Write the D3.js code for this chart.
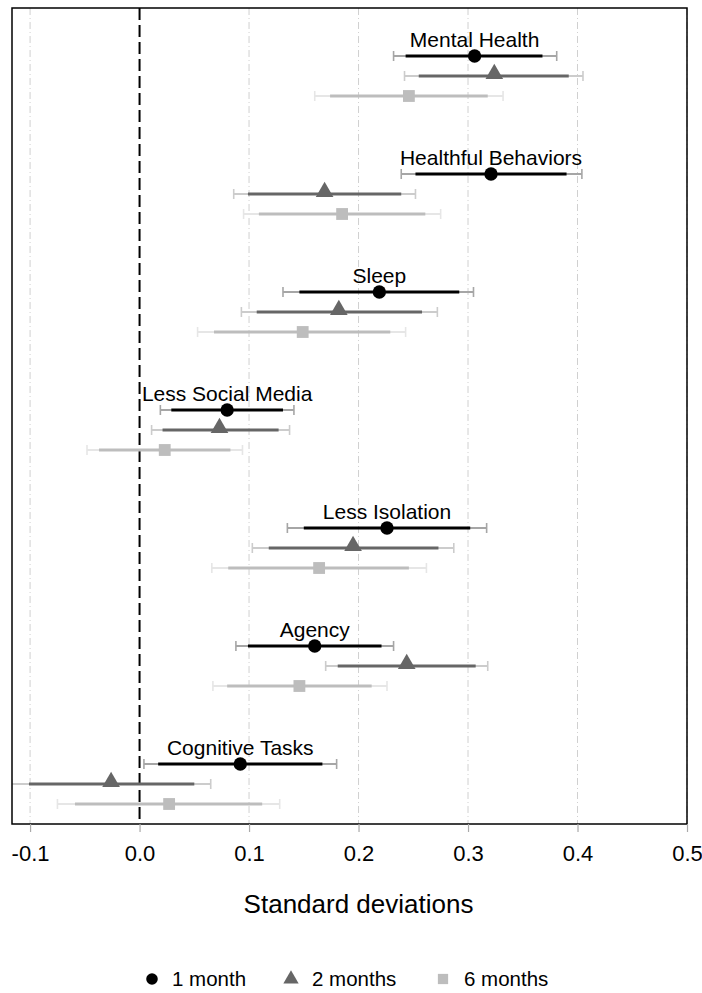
<!DOCTYPE html>
<html>
<head>
<meta charset="utf-8">
<script src="https://cdn.jsdelivr.net/npm/d3@7"></script>
<style>
  body { margin: 0; background: #fff; }
  text { font-family: "Liberation Sans", Arial, sans-serif; fill: #000; }
</style>
</head>
<body>
<svg width="702" height="993"></svg>
<script>
/* chart values */
var categories = ["Mental Health", "Healthful Behaviors", "Sleep", "Less Social Media", "Less Isolation", "Agency", "Cognitive Tasks"];
var seriesNames = ["1 month", "2 months", "6 months"];
var tickValues = [-0.1, 0.0, 0.1, 0.2, 0.3, 0.4, 0.5];

// 1 month
var est1 = [0.306, 0.321, 0.219, 0.080, 0.226, 0.160, 0.092];
var innerLo1 = [0.243, 0.252, 0.146, 0.029, 0.150, 0.099, 0.017];
var innerHi1 = [0.368, 0.390, 0.292, 0.131, 0.302, 0.221, 0.167];
var outerLo1 = [0.232, 0.239, 0.131, 0.019, 0.135, 0.088, 0.004];
var outerHi1 = [0.381, 0.404, 0.305, 0.141, 0.317, 0.232, 0.180];
// 2 months
var est2 = [0.324, 0.169, 0.182, 0.073, 0.195, 0.244, -0.026];
var innerLo2 = [0.255, 0.099, 0.107, 0.021, 0.118, 0.181, -0.101];
var innerHi2 = [0.392, 0.239, 0.258, 0.127, 0.273, 0.307, 0.050];
var outerLo2 = [0.242, 0.086, 0.093, 0.011, 0.103, 0.170, -0.117];
var outerHi2 = [0.405, 0.252, 0.272, 0.137, 0.287, 0.318, 0.065];
// 6 months
var est6 = [0.246, 0.185, 0.149, 0.023, 0.164, 0.146, 0.027];
var innerLo6 = [0.174, 0.109, 0.068, -0.037, 0.081, 0.080, -0.059];
var innerHi6 = [0.318, 0.261, 0.229, 0.083, 0.246, 0.212, 0.112];
var outerLo6 = [0.160, 0.095, 0.053, -0.048, 0.066, 0.067, -0.075];
var outerHi6 = [0.332, 0.275, 0.243, 0.094, 0.262, 0.226, 0.128];

var seriesData = [
    {est: est1, ilo: innerLo1, ihi: innerHi1, olo: outerLo1, ohi: outerHi1},
    {est: est2, ilo: innerLo2, ihi: innerHi2, olo: outerLo2, ohi: outerHi2},
    {est: est6, ilo: innerLo6, ihi: innerHi6, olo: outerLo6, ohi: outerHi6}
];

var markColor = ["#000000", "#666666", "#bdbdbd"];
var outerColor = ["#a6a6a6", "#cccccc", "#e6e6e6"];
var symbols = [d3.symbolCircle, d3.symbolTriangle, d3.symbolSquare];
var symbolSizes = [140, 135, 140];

var rows = [];
seriesData.forEach(function (s, k) {
    categories.forEach(function (c, i) {
        rows.push({cat: c, ci: i, k: k, est: s.est[i], ilo: s.ilo[i], ihi: s.ihi[i], olo: s.olo[i], ohi: s.ohi[i]});
    });
});

var svg = d3.select("svg"),
    margin = {top: 8, left: 12, right: 15, bottom: 169},
    width = +svg.attr("width") - margin.left - margin.right,
    height = +svg.attr("height") - margin.top - margin.bottom;

var x = d3.scaleLinear().domain([-0.1165, 0.5]).range([0, width]);
var yGroup = d3.scalePoint().domain(categories).range([48, 756]);
var yOff = d3.scalePoint().domain([0, 1, 2]).range([0, 40]);
function yPos(d) { return yGroup(d.cat) + yOff(d.k); }

var g = svg.append("g")
    .attr("transform", "translate(" + margin.left + "," + margin.top + ")");

g.append("clipPath").attr("id", "plotclip")
    .append("rect").attr("width", width).attr("height", height);

/* grid lines */
g.selectAll(".grid")
    .data(tickValues.filter(function (t) { return t !== 0; }))
    .enter().append("line")
    .attr("x1", function (d) { return x(d); })
    .attr("x2", function (d) { return x(d); })
    .attr("y1", 0).attr("y2", height)
    .attr("stroke", "#d0d0d0")
    .attr("stroke-width", 1)
    .attr("stroke-dasharray", "7,3,1,3");

/* zero line */
g.append("line")
    .attr("x1", x(0)).attr("x2", x(0))
    .attr("y1", 0).attr("y2", height)
    .attr("stroke", "#000")
    .attr("stroke-width", 2)
    .attr("stroke-dasharray", "12,5");

var marks = g.append("g").attr("clip-path", "url(#plotclip)");

/* outer intervals with caps */
marks.selectAll(".outer")
    .data(rows)
    .enter().append("line")
    .attr("x1", function (d) { return x(d.olo); })
    .attr("x2", function (d) { return x(d.ohi); })
    .attr("y1", yPos).attr("y2", yPos)
    .attr("stroke", function (d) { return outerColor[d.k]; })
    .attr("stroke-width", 1.8);

["olo", "ohi"].forEach(function (key) {
    marks.selectAll(".cap-" + key)
        .data(rows)
        .enter().append("line")
        .attr("x1", function (d) { return x(d[key]); })
        .attr("x2", function (d) { return x(d[key]); })
        .attr("y1", function (d) { return yPos(d) - 5; })
        .attr("y2", function (d) { return yPos(d) + 5; })
        .attr("stroke", function (d) { return outerColor[d.k]; })
        .attr("stroke-width", 1.6);
});

/* inner intervals */
marks.selectAll(".inner")
    .data(rows)
    .enter().append("line")
    .attr("x1", function (d) { return x(d.ilo); })
    .attr("x2", function (d) { return x(d.ihi); })
    .attr("y1", yPos).attr("y2", yPos)
    .attr("stroke", function (d) { return markColor[d.k]; })
    .attr("stroke-width", 2.8);

/* point estimates */
marks.selectAll(".pt")
    .data(rows)
    .enter().append("path")
    .attr("transform", function (d) {
        var dy = d.k === 1 ? -2 : 0;
        return "translate(" + x(d.est) + "," + (yPos(d) + dy) + ")";
    })
    .attr("d", function (d) { return d3.symbol().type(symbols[d.k]).size(symbolSizes[d.k])(); })
    .attr("fill", function (d) { return markColor[d.k]; });

/* category labels above the 1 month estimate */
g.selectAll(".catlabel")
    .data(categories)
    .enter().append("text")
    .attr("x", function (d, i) { return x(est1[i]); })
    .attr("y", function (d) { return yGroup(d) - 9; })
    .attr("text-anchor", "middle")
    .style("font-size", "21px")
    .text(function (d) { return d; });

/* frame */
g.append("rect")
    .attr("width", width).attr("height", height)
    .attr("fill", "none")
    .attr("stroke", "#000")
    .attr("stroke-width", 1.5);

/* x axis */
var axis = g.append("g")
    .attr("transform", "translate(0," + height + ")")
    .call(d3.axisBottom(x).tickValues(tickValues).tickSize(8).tickPadding(13)
        .tickFormat(d3.format(".1f")));
axis.select(".domain").remove();
axis.selectAll(".tick line").attr("stroke", "#aaa").attr("stroke-width", 1.2);
axis.selectAll(".tick text")
    .style("font-size", "22px")
    .style("font-family", "'Liberation Sans', Arial, sans-serif")
    .attr("fill", "#000")
    .text(function (d) { return d === 0 ? "0.0" : d3.format(".1f")(d).replace("−", "-"); });

g.append("text")
    .attr("x", (x(-0.1) + x(0.5)) / 2)
    .attr("y", height + 89)
    .attr("text-anchor", "middle")
    .style("font-size", "26px")
    .text("Standard deviations");

/* legend */
var legendX = [152, 291, 443];
var legend = svg.selectAll(".legend")
    .data(seriesNames)
    .enter().append("g")
    .attr("transform", function (d, i) { return "translate(" + legendX[i] + ",979)"; });

legend.append("path")
    .attr("d", function (d, i) { return d3.symbol().type(symbols[i]).size(symbolSizes[i] * 0.75)(); })
    .attr("fill", function (d, i) { return markColor[i]; });

legend.append("text")
    .attr("x", function (d, i) { return i === 0 ? 20 : 21; })
    .attr("y", 7)
    .style("font-size", "20.5px")
    .text(function (d) { return d; });
</script>
</body>
</html>
